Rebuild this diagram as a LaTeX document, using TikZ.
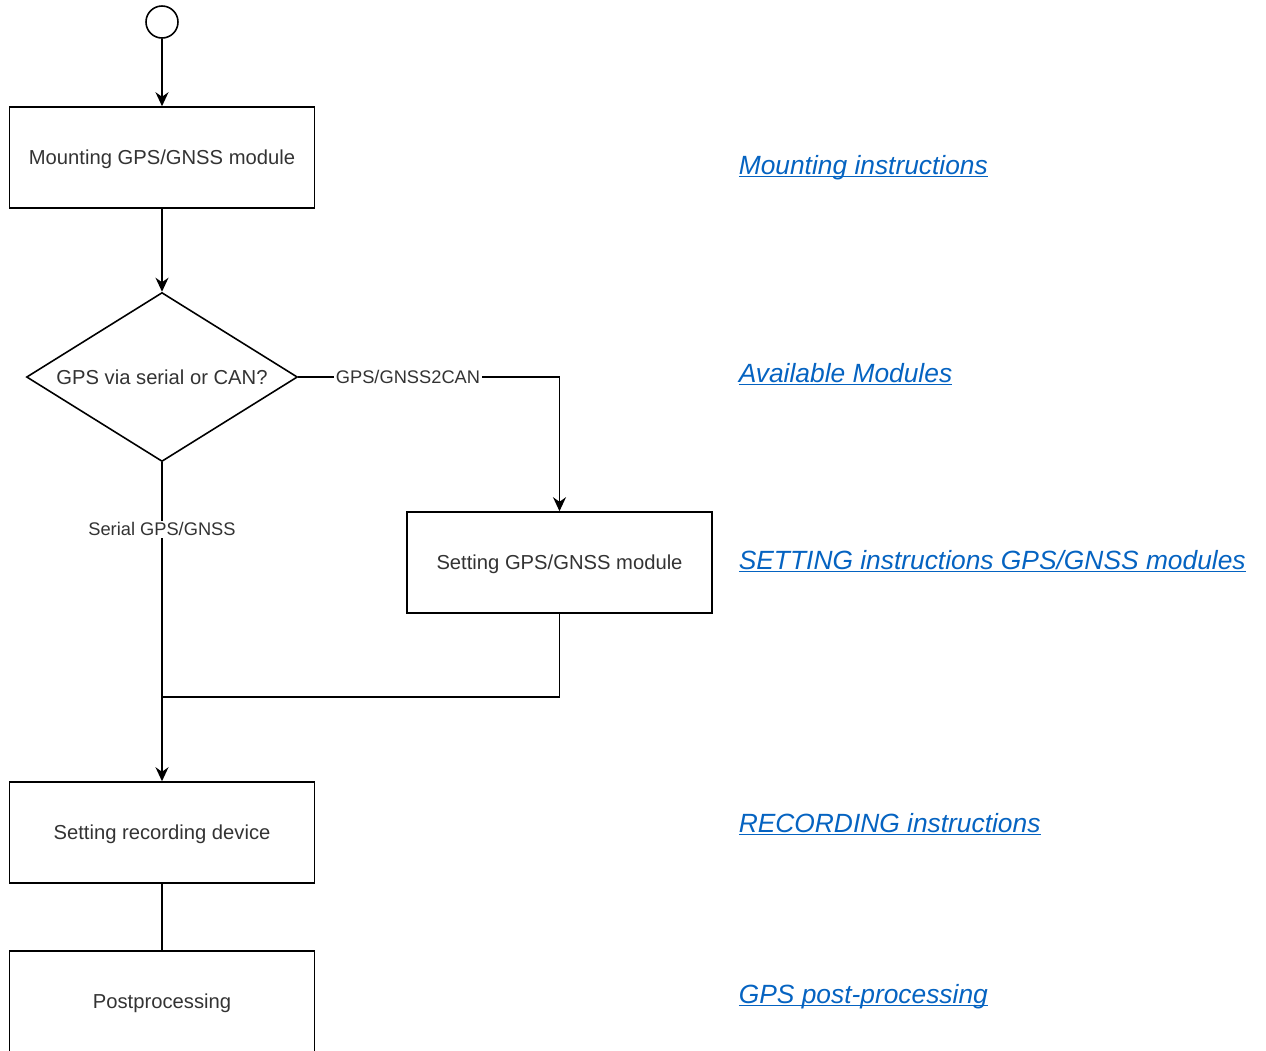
\documentclass[tikz,border=0pt]{standalone}
\usepackage{fontspec}
\setmainfont{Liberation Sans}
\usetikzlibrary{shapes.geometric,arrows.meta}
\definecolor{txtgray}{HTML}{333333}
\definecolor{linkblue}{HTML}{0563C1}
\newcommand{\doculine}[1]{\underline{\smash{#1}}}
\begin{document}
\begin{tikzpicture}[>={Stealth[length=2.8mm,width=2.6mm]}, line width=0.9pt,
		stepbox/.style={rectangle, draw, minimum width=6.1cm, minimum height=2.02cm, text height=8.2pt, text depth=0pt, text=txtgray, font=\fontsize{11.5}{14}\selectfont},
		decision/.style={diamond, draw, aspect=1.6, inner sep=0pt, minimum width=5.42cm, minimum height=3.38cm, text height=8.2pt, text depth=0pt, text=txtgray, font=\fontsize{11.5}{14}\selectfont},
		edgelabel/.style={fill=white, inner sep=1pt, text=txtgray, font=\fontsize{10.4}{12}\selectfont},
		doclink/.style={anchor=west, inner sep=0pt, text=linkblue, font=\fontsize{15}{18}\selectfont\itshape}]
		\useasboundingbox (0,0) rectangle (25.32,-21);
		
		% Start and steps
		\node[circle, draw, minimum size=0.64cm, inner sep=0pt] (start) at (3.24,-0.44) {};
		\node[stepbox] (mounting) at (3.24,-3.15) {Mounting GPS/GNSS module};
		\node[decision] (choice) at (3.24,-7.54) {GPS via serial or CAN?};
		\node[stepbox] (setting) at (11.19,-11.25) {Setting GPS/GNSS module};
		\coordinate (join) at (3.24,-13.94);
		\node[stepbox] (recording) at (3.24,-16.65) {Setting recording device};
		\node[stepbox] (post) at (3.24,-20.03) {Postprocessing};
		
		% Links to instructions
		\node[doclink] (linkmount) at (14.76,-3.52) {\doculine{Mounting instructions}};
		\node[doclink] (linkmodules) at (14.76,-7.68) {\doculine{Available Modules}};
		\node[doclink] (linksetting) at (14.76,-11.42) {\doculine{SETTING instructions GPS/GNSS modules}};
		\node[doclink] (linkrecord) at (14.76,-16.68) {\doculine{RECORDING instructions}};
		\node[doclink] (linkpost) at (14.76,-20.10) {\doculine{GPS post-processing}};
		
		% connections
		\draw[->] (start) -- (mounting);
		\draw[->] (mounting) -- (choice);
		\draw[->] (choice.east) -| node[edgelabel, pos=0.21] {GPS/GNSS2CAN} (setting.north);
		\draw[->] (choice.south) -- node[edgelabel, pos=0.21] {Serial GPS/GNSS} (recording.north);
		\draw (setting.south) |- (join);
		\draw (recording) -- (post);
	\end{tikzpicture}
\end{document}
